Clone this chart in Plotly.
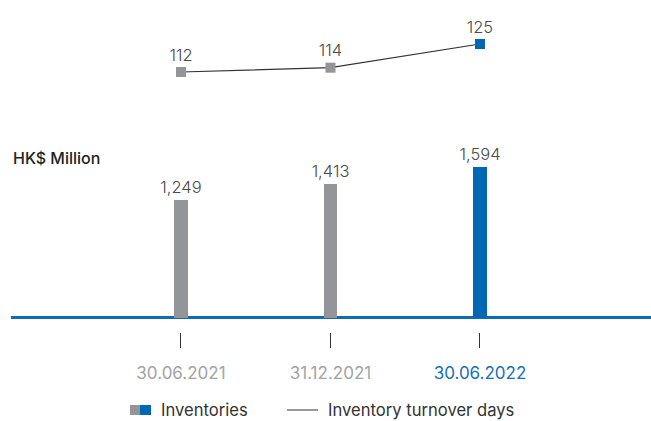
import plotly.graph_objects as go

categories = ["30.06.2021", "31.12.2021", "30.06.2022"]
inventories = [1249, 1413, 1594]
turnover_days = [112, 114, 125]
bar_colors = ["#939598", "#939598", "#0068b3"]
tick_colors = ["#a3a3a3", "#a3a3a3", "#1670b8"]

W, H = 651, 421
ML, MR, MT, MB = 11, 0, 10, 89
PW, PH = W - ML - MR, H - MT - MB

def px(x):
    return (x - ML) / PW

def py(y):
    return (H - MB - y) / PH

FONT = "Inter"

fig = go.Figure()
fig.add_trace(go.Bar(
    x=categories, y=inventories, marker=dict(color=bar_colors, line=dict(width=0)),
    width=0.09, text=[f"{v:,}" for v in inventories], textposition="outside",
    constraintext="none",
    textfont=dict(size=16.5, color="#4a4a4a", family=FONT, weight=300), cliponaxis=False,
    showlegend=False, yaxis="y",
))
fig.add_trace(go.Scatter(
    x=categories, y=turnover_days, mode="lines+markers+text",
    line=dict(color="#333333", width=1.2),
    marker=dict(symbol="square", size=10, color=bar_colors),
    text=[str(v) for v in turnover_days], textposition="top center",
    textfont=dict(size=16.5, color="#4a4a4a", family=FONT, weight=300), cliponaxis=False,
    showlegend=False, yaxis="y2",
))

ticktext = [f"<span style='color:{c}'>{t}</span>" for t, c in zip(categories, tick_colors)]

fig.update_layout(
    width=W, height=H, margin=dict(l=ML, r=MR, t=MT, b=MB),
    plot_bgcolor="white", paper_bgcolor="white",
    font=dict(family=FONT, size=16, color="#333333"),
    xaxis=dict(type="category", range=[-1.137, 3.144], showgrid=False, showline=False,
               zeroline=False, ticks="outside", ticklen=15, tickwidth=1, tickcolor="#333333",
               tickvals=categories, ticktext=ticktext, ticklabelstandoff=11,
               tickfont=dict(size=17, family=FONT)),
    yaxis=dict(domain=[0, 0.596], range=[-148, 1879], showgrid=False, showticklabels=False,
               zeroline=True, zerolinecolor="#0b6db3", zerolinewidth=2.5, showline=False),
    yaxis2=dict(domain=[0.7205, 1], range=[99, 140.8], showgrid=False, showticklabels=False,
                zeroline=False, showline=False, anchor="x"),
    bargap=0,
)

fig.add_annotation(xref="paper", yref="paper", x=px(11), y=py(158), xanchor="left",
                   yanchor="middle", text="HK$ Million", showarrow=False,
                   font=dict(size=16, color="#222222", family=FONT, weight=500))

# legend
ly = 410
fig.add_shape(type="rect", xref="paper", yref="paper", x0=px(130), x1=px(140),
              y0=py(415), y1=py(405), fillcolor="#939598", line=dict(width=0))
fig.add_shape(type="rect", xref="paper", yref="paper", x0=px(140), x1=px(151),
              y0=py(415), y1=py(405), fillcolor="#0068b3", line=dict(width=0))
fig.add_annotation(xref="paper", yref="paper", x=px(159), y=py(ly), xanchor="left",
                   yanchor="middle", text="Inventories", showarrow=False,
                   font=dict(size=16.6, color="#333333", family=FONT))
fig.add_shape(type="line", xref="paper", yref="paper", x0=px(287), x1=px(318),
              y0=py(ly), y1=py(ly), line=dict(color="#333333", width=1))
fig.add_annotation(xref="paper", yref="paper", x=px(326), y=py(ly), xanchor="left",
                   yanchor="middle", text="Inventory turnover days", showarrow=False,
                   font=dict(size=16.6, color="#333333", family=FONT))

fig.write_html("out.html", config={"displayModeBar": False},
               post_script="document.body.style.margin='0';document.body.style.overflow='hidden';")
